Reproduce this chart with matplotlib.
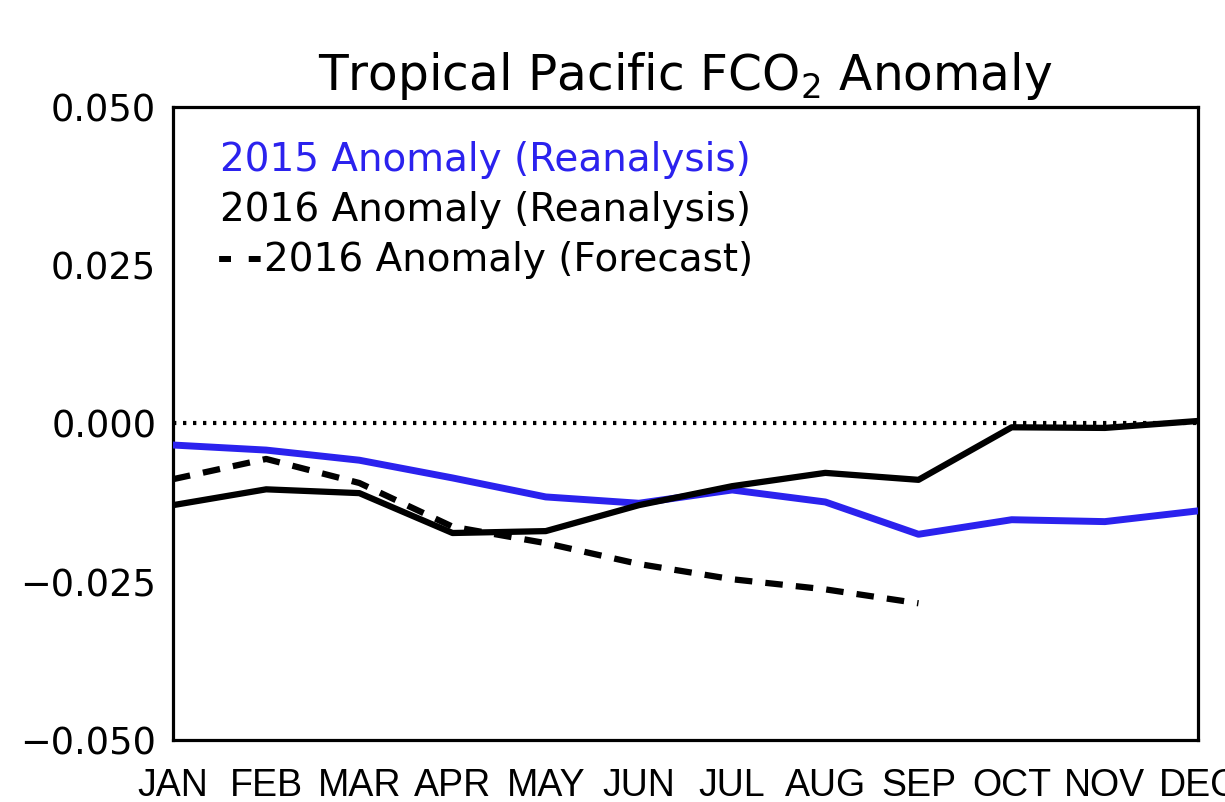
import matplotlib
matplotlib.use("Agg")
import matplotlib.pyplot as plt

months = ["JAN", "FEB", "MAR", "APR", "MAY", "JUN",
          "JUL", "AUG", "SEP", "OCT", "NOV", "DEC"]

anom_2015 = [-0.0034, -0.0042, -0.0058, -0.0086, -0.0116, -0.0126,
             -0.0105, -0.0124, -0.0175, -0.0152, -0.0155, -0.0138]

anom_2016 = [-0.0129, -0.0104, -0.0110, -0.0173, -0.0170, -0.0129,
             -0.0099, -0.0078, -0.0089, -0.0006, -0.0007, 0.0004]

forecast_2016 = [-0.0088, -0.0056, -0.0094, -0.0163, -0.0189, -0.0222,
                 -0.0246, -0.0262, -0.0284]

yticks = [-0.050, -0.025, 0.000, 0.025, 0.050]

fig = plt.figure(figsize=(12.25, 8.02), dpi=100)
ax = fig.add_axes([0.1412, 0.0773, 0.8368, 0.7893])

x = list(range(len(months)))

ax.axhline(0, color="black", lw=3.0, linestyle=(0, (0.8, 1.6)), zorder=1)
ax.plot(x, anom_2015, color="#2b22ee", lw=5.0, zorder=3)
ax.plot(x, anom_2016, color="black", lw=4.5, zorder=4)
ax.plot(x[:len(forecast_2016)], forecast_2016, color="black", lw=4.5,
        linestyle=(0, (2.8, 2.1)), zorder=2)

ax.set_xlim(0, len(months) - 1)
ax.set_ylim(-0.05, 0.05)

ax.set_xticks(x)
ax.set_xticklabels(months, fontfamily="Liberation Sans", fontsize=27)
ax.set_yticks(yticks)
ax.set_yticklabels([f"{v:.3f}".replace("-", "\u2212") for v in yticks],
                   fontfamily="DejaVu Sans", fontsize=26.5)
ax.tick_params(axis="both", length=0)
ax.tick_params(axis="x", pad=20)
ax.tick_params(axis="y", pad=12)

for spine in ax.spines.values():
    spine.set_linewidth(2.3)

ax.set_title("Tropical Pacific FCO$_2$ Anomaly", fontfamily="DejaVu Sans",
             fontsize=35, pad=12)

legend_font = dict(fontfamily="DejaVu Sans", fontsize=28,
                   transform=ax.transAxes, va="center", ha="left")
ax.text(0.046, 0.917, "2015 Anomaly (Reanalysis)", color="#2b22ee", **legend_font)
ax.text(0.046, 0.837, "2016 Anomaly (Reanalysis)", color="black", **legend_font)
ax.text(0.043, 0.758, "- -", color="black", fontweight="bold", **legend_font)
ax.text(0.089, 0.758, "2016 Anomaly (Forecast)", color="black", **legend_font)

fig.savefig("out.png", dpi=100)
